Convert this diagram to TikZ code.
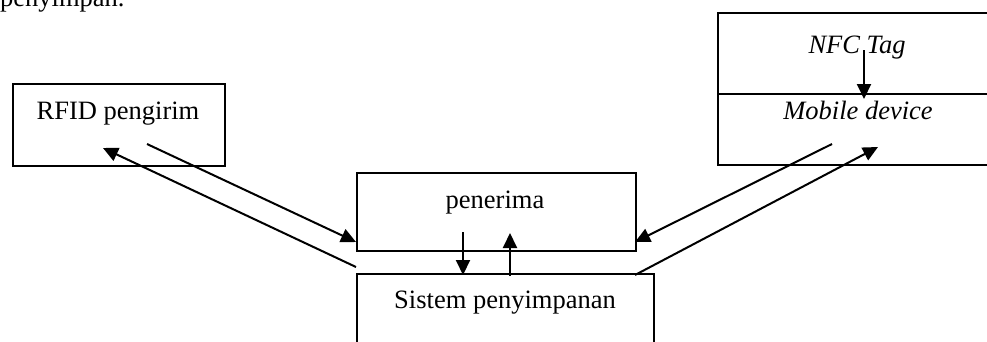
\documentclass[tikz,border=0pt]{standalone}
\usepackage{fontspec}
\setmainfont{Liberation Serif}
\usetikzlibrary{arrows.meta}
\begin{document}
\begin{tikzpicture}[x=1pt,y=-1pt,
  boxstyle/.style={draw=black, line width=1.6pt, inner sep=0pt, anchor=north west},
  lbl/.style={font=\fontsize{26.5}{30}\selectfont, inner sep=0pt, anchor=base},
  arr/.style={line width=2pt, -{Triangle[length=15pt,width=14pt]}},
  plainln/.style={line width=2pt}]
\useasboundingbox (0,0) rectangle (987,341);
\fill[white] (0,0) rectangle (987,341);
\clip (0,0) rectangle (987,341);
% cut-off text at top
\node[lbl, anchor=base west] (prev) at (0,6) {penyimpan.};
% boxes
\node[boxstyle, minimum width=212pt, minimum height=82pt] (rfid) at (12,83) {};
\node[boxstyle, minimum width=279pt, minimum height=78pt] (pen) at (356,172) {};
\node[boxstyle, minimum width=297pt, minimum height=100pt] (sis) at (356,273) {};
\node[boxstyle, minimum width=283pt, minimum height=81pt] (nfc) at (717,12) {};
\node[boxstyle, minimum width=283pt, minimum height=71pt] (mob) at (717,93) {};
% labels
\node[lbl] (rfidt) at (118,119) {RFID pengirim};
\node[lbl] (pent) at (495,208) {penerima};
\node[lbl] (sist) at (505,308) {Sistem penyimpanan};
\node[lbl] (nfct) at (857,53) {\itshape NFC Tag};
\node[lbl] (mobt) at (858,119) {\itshape Mobile device};
% arrow end points
\coordinate (a1s) at (147,144);
\coordinate (a1e) at (356,242);
\coordinate (a2s) at (356,267);
\coordinate (a2e) at (103,148);
\coordinate (a3s) at (832,144);
\coordinate (a3e) at (635,242);
\coordinate (a4s) at (635,275);
\coordinate (a4e) at (878,147);
\coordinate (a5s) at (864,50);
\coordinate (a5e) at (864,99);
\coordinate (a6s) at (463,232);
\coordinate (a6e) at (463,275);
\coordinate (a7s) at (510,276);
\coordinate (a7e) at (510,233);
% arrows
\draw[arr] (a1s) -- (a1e);
\draw[arr] (a2s) -- (a2e);
\draw[arr] (a3s) -- (a3e);
\draw[arr] (a4s) -- (a4e);
\draw[arr] (a5s) -- (a5e);
\draw[arr] (a6s) -- (a6e);
\draw[arr] (a7s) -- (a7e);
\end{tikzpicture}
\end{document}
